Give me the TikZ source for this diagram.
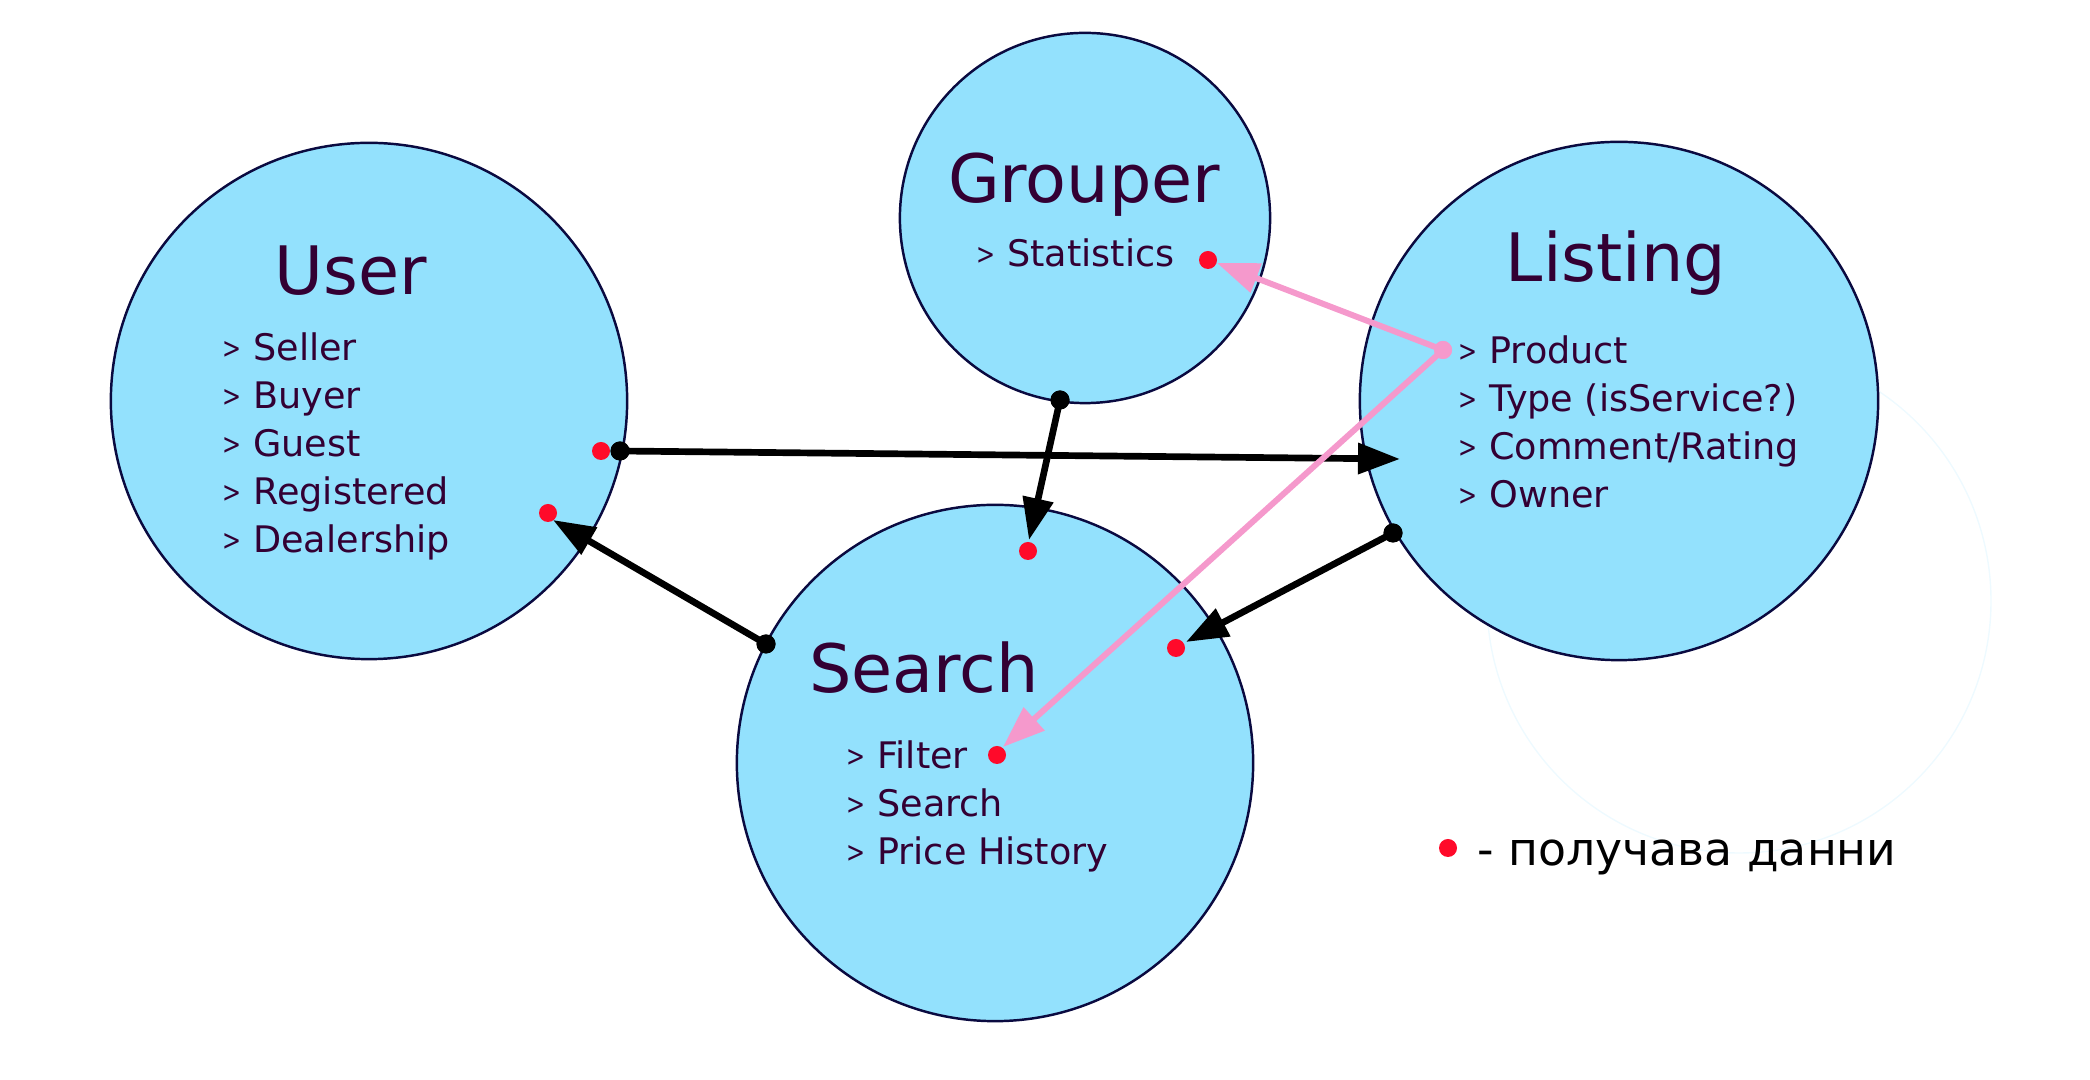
\documentclass[tikz,border=0pt]{standalone}
\usepackage{fontspec}
\usepackage{graphicx}
\setmainfont{DejaVu Sans}
\usetikzlibrary{arrows.meta}
\definecolor{cfill}{HTML}{93E1FD}
\definecolor{cline}{HTML}{0A0A40}
\definecolor{txt}{HTML}{330033}
\definecolor{rdot}{HTML}{FF0A2A}
\definecolor{pinkc}{HTML}{F599CC}
\definecolor{ghost}{RGB}{238,250,255}
\newcommand{\chev}{\raisebox{0.1ex}{\scalebox{0.62}[0.8]{>}}}
\tikzset{
  bigc/.style={circle, fill=cfill, draw=cline, line width=0.7pt, inner sep=0pt},
  ttl/.style={anchor=base, text=txt, inner sep=0pt, font=\fontsize{19}{22}\selectfont},
  itm/.style={anchor=base west, text=txt, inner sep=0pt, font=\fontsize{10.4}{12}\selectfont},
  rd/.style={circle, fill=rdot, inner sep=0pt, minimum size=0.18cm},
  bd/.style={circle, fill=black, inner sep=0pt, minimum size=0.19cm},
  pd/.style={circle, fill=pinkc, inner sep=0pt, minimum size=0.18cm},
  blk/.style={line width=1.9pt, draw=black, -{Triangle[length=0.42cm, width=0.3cm]}},
  pnk/.style={line width=1.7pt, draw=pinkc, -{Triangle[length=0.42cm, width=0.3cm]}},
}
\begin{document}
\begin{tikzpicture}[x=0.01cm, y=-0.01cm]
\useasboundingbox (0,0) rectangle (2090,1080);
% faint ghost circle
\draw[ghost, line width=0.4pt] (1739,601) circle[radius=252];
% circles
\node[bigc, minimum size=5.16cm] (user) at (369,401) {};
\node[bigc, minimum size=3.70cm] (grouper) at (1085,218) {};
\node[bigc, minimum size=5.18cm] (listing) at (1619,401) {};
\node[bigc, minimum size=5.16cm] (search) at (995,763) {};
% titles
\node[ttl] (tuser) at (351,295) {User};
\node[ttl] (tgroup) at (1084,203) {Grouper};
\node[ttl] (tlist) at (1616,282) {Listing};
\node[ttl] (tsearch) at (924,693) {Search};
% user items
\node[itm] (u1) at (222,361) {\chev{} Seller};
\node[itm] (u2) at (222,409) {\chev{} Buyer};
\node[itm] (u3) at (222,457) {\chev{} Guest};
\node[itm] (u4) at (222,505) {\chev{} Registered};
\node[itm] (u5) at (222,553) {\chev{} Dealership};
% grouper item
\node[itm] (g1) at (976,267) {\chev{} Statistics};
% listing items
\node[itm] (l1) at (1458,364) {\chev{} Product};
\node[itm] (l2) at (1458,412) {\chev{} Type (isService?)};
\node[itm] (l3) at (1458,460) {\chev{} Comment/Rating};
\node[itm] (l4) at (1458,508) {\chev{} Owner};
% search items
\node[itm] (s1) at (846,769) {\chev{} Filter};
\node[itm] (s2) at (846,817) {\chev{} Search};
\node[itm] (s3) at (846,865) {\chev{} Price History};
% red dots (receive data)
\node[rd] (rstat) at (1208,260) {};
\node[rd] (ru1) at (601,451) {};
\node[rd] (ru2) at (548,513) {};
\node[rd] (rs1) at (1028,551) {};
\node[rd] (rs2) at (1176,648) {};
\node[rd] (rfilt) at (997,755) {};
% arrow tip coordinates
\coordinate (t1) at (1400,459);
\coordinate (t2) at (1029,540);
\coordinate (t3) at (553,520);
\coordinate (t4) at (1186,642);
\coordinate (t5) at (1217,263);
\coordinate (t6) at (1003,747);
% black start dots
\node[bd] (b1) at (620,451) {};
\node[bd] (b2) at (1060,400) {};
\node[bd] (b3) at (766,644) {};
\node[bd] (b4) at (1393,533) {};
\node[pd] (p1) at (1443,350) {};
% connectors
\draw[blk] (b1.center) -- (t1);
\draw[blk] (b2.center) -- (t2);
\draw[blk] (b3.center) -- (t3);
\draw[blk] (b4.center) -- (t4);
\draw[pnk] (p1.center) -- (t5);
\draw[pnk] (p1.center) -- (t6);
% redraw dots on top
\node[bd] at (b1) {};
\node[bd] at (b2) {};
\node[bd] at (b3) {};
\node[bd] at (b4) {};
\node[pd] at (p1) {};
% legend
\node[rd] (lgdot) at (1448,848) {};
\node[anchor=base west, inner sep=0pt, font=\fontsize{13}{16}\selectfont] (lgtext) at (1477,866) {- получава данни};
\end{tikzpicture}
\end{document}
